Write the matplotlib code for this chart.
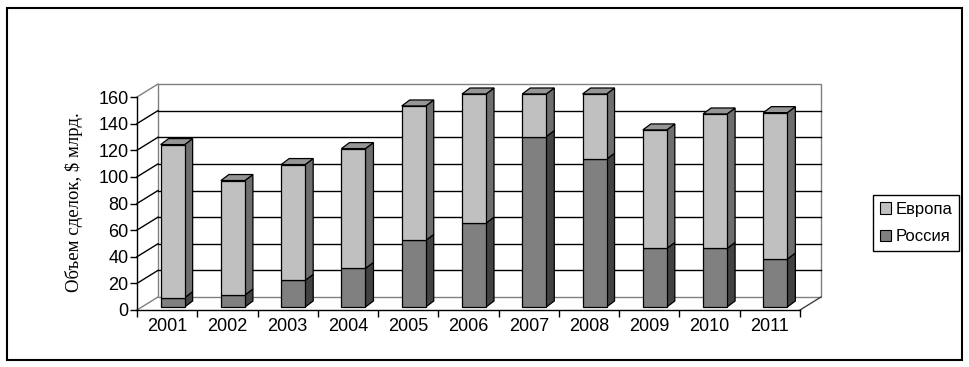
import matplotlib.pyplot as plt
from matplotlib.patches import Polygon, Rectangle, Patch

years = ["2001", "2002", "2003", "2004", "2005", "2006", "2007", "2008", "2009", "2010", "2011"]
russia = [7, 9, 20, 29, 50, 63, 128, 111, 44, 44, 36]
europe = [115, 86, 87, 90, 101, 97, 32, 49, 89, 101, 110]
yticks = [0, 20, 40, 60, 80, 100, 120, 140, 160]

W, H = 970, 367
fig = plt.figure(figsize=(W / 100, H / 100), dpi=100)
# front plane of the 3d box, in pixels
x0, x1, ybot, ytop = 137, 800, 310, 97
ax = fig.add_axes([x0 / W, 1 - ybot / H, (x1 - x0) / W, (ybot - ytop) / H])
ax.set_xlim(0, len(years))
ax.set_ylim(0, 160)
ax.patch.set_alpha(0)

pxx = (x1 - x0) / len(years)
pxy = (ybot - ytop) / 160.0
# depth of the wall and of the bars (data units)
dxw, dyw = 21 / pxx, 13 / pxy
bx, by = 5.5 / pxx, 3 / pxy
sdx, sdy = 8 / pxx, 6 / pxy
bw = 24 / pxx

wall = "#808080"
n = len(years)
ax.add_patch(Rectangle((dxw, dyw), n, 160, fill=False, ec=wall, lw=1, clip_on=False, zorder=1))
for v in yticks:
    c = wall if v in (0, 160) else "black"
    if 0 < v < 160:
        ax.plot([dxw, n + dxw], [v + dyw, v + dyw], color="black", lw=1, clip_on=False, zorder=1)
    ax.plot([0, dxw], [v, v + dyw], color=c, lw=1, clip_on=False, zorder=1)
ax.plot([n, n + dxw], [0, dyw], color="#404040", lw=1, clip_on=False, zorder=1)

cols = {
    "r": ("#808080", "#424242", "#6a6a6a"),
    "e": ("#c0c0c0", "#6e6e6e", "#969696"),
}


def block(xl, yb, yt, key, top):
    front, side, topc = cols[key]
    xr = xl + bw
    z = 3
    ax.add_patch(Polygon([(xr, yb), (xr + sdx, yb + sdy), (xr + sdx, yt + sdy), (xr, yt)],
                         fc=side, ec="black", lw=0.9, clip_on=False, zorder=z))
    if top:
        ax.add_patch(Polygon([(xl, yt), (xl + sdx, yt + sdy), (xr + sdx, yt + sdy), (xr, yt)],
                             fc=topc, ec="black", lw=0.9, clip_on=False, zorder=z))
    ax.add_patch(Rectangle((xl, yb), bw, yt - yb, fc=front, ec="black", lw=0.9,
                           clip_on=False, zorder=z))


for i in range(n):
    xl = i + 0.5 - bw / 2 + bx
    r = russia[i]
    t = min(russia[i] + europe[i], 160)
    block(xl, by, by + r, "r", False)
    block(xl, by + r, by + t, "e", True)

for s in ["top", "right"]:
    ax.spines[s].set_visible(False)
ax.spines["left"].set_linewidth(1)
ax.spines["bottom"].set_linewidth(1)
ax.set_yticks(yticks)
ax.set_yticklabels([str(v) for v in yticks], fontsize=13, family="Liberation Sans")
ax.tick_params(axis="y", length=5, width=1, pad=1)
ax.set_xticks([i + 0.5 for i in range(n)])
ax.set_xticklabels(years, fontsize=13, family="Liberation Sans")
ax.tick_params(axis="x", which="major", length=0, pad=6)
ax.set_xticks(range(n + 1), minor=True)
ax.tick_params(axis="x", which="minor", length=5, width=1)

fig.text(74 / W, 1 - 202 / H, "Объем сделок, $ млрд.", rotation=90, ha="center", va="center",
         fontsize=13.5, family="Liberation Serif")

handles = [Patch(fc="#c0c0c0", ec="black", lw=0.8, label="Европа"),
           Patch(fc="#808080", ec="black", lw=0.8, label="Россия")]
leg = fig.legend(handles=handles, loc="center left", bbox_to_anchor=(873 / W, 1 - 223 / H),
                 prop={"family": "Liberation Sans", "size": 12},
                 fancybox=False, edgecolor="black", framealpha=1, borderpad=0.4,
                 handlelength=0.7, handleheight=0.7, handletextpad=0.25, labelspacing=0.75,
                 borderaxespad=0)
leg.get_frame().set_linewidth(1)

fig.add_artist(Rectangle((7.5 / W, 1 - 360 / H), (962 - 7.5) / W, (360 - 7.5) / H,
                         transform=fig.transFigure, fill=False, ec="black", lw=1.5))

fig.savefig("out.png", dpi=100)
